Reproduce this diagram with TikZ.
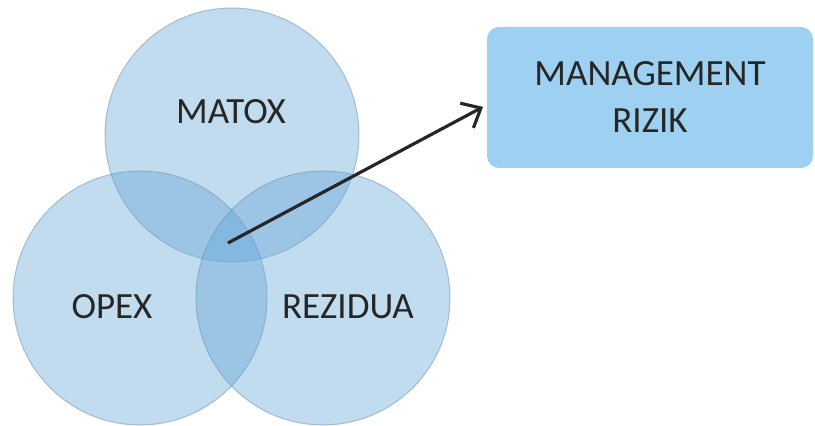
\documentclass[tikz,border=0pt]{standalone}
\usepackage{fontspec}
\setmainfont{Carlito}
\usetikzlibrary{arrows.meta}
\tikzset{>=latex}
\definecolor{vennblue}{RGB}{100,165,215}
\definecolor{vennedge}{RGB}{105,145,175}
\definecolor{boxblue}{RGB}{158,209,241}
\definecolor{inkgray}{RGB}{38,38,38}

\begin{document}
\begin{tikzpicture}[x=0.5pt,y=-0.5pt,
		set/.style={circle,minimum size=127pt,fill=vennblue,fill opacity=0.4,draw=vennedge,draw opacity=0.5,line width=0.5pt},
		lbl/.style={text=inkgray,font=\fontsize{18.5}{23.5}\selectfont}]
			\useasboundingbox (0,0) rectangle (815,426);
			\foreach \name/\x/\y in {matox/232/135,opex/140/298,rezidua/323/298}
				{
					\node[set] at (\x,\y) (\name) {};
				}
%-----Labels of the three sets-----
			\node[lbl] at (231,112) (matoxlbl) {MATOX};
			\node[lbl] at (112,307) (opexlbl) {OPEX};
			\node[lbl] at (348,307) (rezidualbl) {REZIDUA};
			\node[lbl,fill=boxblue,rounded corners=6pt,minimum width=163pt,minimum height=70.5pt,align=center] at (650,97.5) (rizik) {MANAGEMENT\\RIZIK};
%-----Draw the arrow here-----
			\coordinate (core) at (228,243);
			\draw[-{Straight Barb[length=8pt,width=14pt]},line width=1.6pt,inkgray,shorten >=2pt] (core) -- ([yshift=-3.75pt]rizik.west);%from the common part to the box
		\end{tikzpicture}
\end{document}
